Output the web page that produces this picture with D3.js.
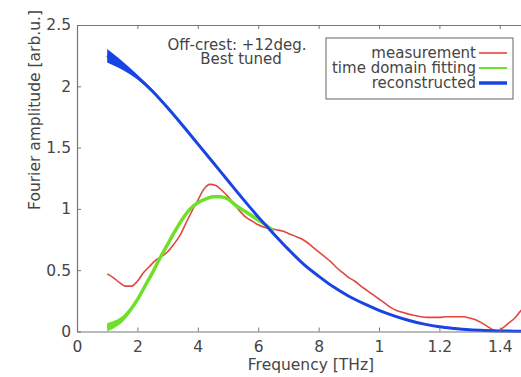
<!DOCTYPE html>
<html>
<head>
<meta charset="utf-8">
<script src="https://cdn.jsdelivr.net/npm/d3@7"></script>
<style>
  html, body { margin: 0; padding: 0; background: #fff; }
  svg { display: block; }
  text { font-family: "DejaVu Sans", sans-serif; fill: #454545; }
</style>
</head>
<body>
<svg id="chart" width="521" height="377"></svg>
<script>
// Frequency axis (THz) and tick labels as printed on the axis
const xTickValues = [0, 0.2, 0.4, 0.6, 0.8, 1.0, 1.2, 1.4];
const xTickLabels = ["0", "2", "4", "6", "8", "1", "1.2", "1.4"];
const yTickValues = [0, 0.5, 1, 1.5, 2, 2.5];
const yTickLabels = ["0", "0.5", "1", "1.5", "2", "2.5"];

// Measured spectrum
const measFreq = [0.10,0.12,0.14,0.16,0.18,0.20,0.22,0.24,0.26,0.28,0.30,0.32,0.34,0.36,0.38,0.40,0.42,0.44,0.46,0.48,0.50,0.52,0.54,0.56,0.58,0.60,0.62,0.64,0.66,0.68,0.70,0.72,0.74,0.76,0.78,0.80,0.82,0.84,0.86,0.88,0.90,0.92,0.94,0.96,0.98,1.00,1.02,1.04,1.06,1.08,1.10,1.12,1.14,1.16,1.18,1.20,1.22,1.24,1.26,1.28,1.30,1.32,1.34,1.36,1.38,1.39,1.41,1.43,1.45,1.47,1.50];
const measAmp  = [0.47,0.44,0.40,0.37,0.37,0.41,0.48,0.53,0.58,0.61,0.65,0.71,0.78,0.88,0.98,1.07,1.16,1.20,1.19,1.15,1.10,1.04,0.98,0.93,0.90,0.87,0.85,0.84,0.83,0.82,0.80,0.78,0.76,0.73,0.69,0.65,0.61,0.57,0.52,0.48,0.44,0.41,0.37,0.335,0.30,0.265,0.23,0.195,0.17,0.155,0.14,0.13,0.12,0.115,0.115,0.115,0.12,0.12,0.12,0.12,0.11,0.095,0.07,0.04,0.01,0.0,0.03,0.07,0.11,0.17,0.24];

// Time domain fit (central value and half-width of the band)
const fitFreq   = [0.10,0.125,0.15,0.175,0.20,0.225,0.25,0.275,0.30,0.325,0.35,0.375,0.40,0.425,0.45,0.475,0.50,0.525,0.55,0.575,0.60,0.625,0.65];
const fitAmp    = [0.035,0.06,0.10,0.17,0.26,0.37,0.48,0.60,0.71,0.82,0.92,1.00,1.05,1.08,1.10,1.10,1.08,1.03,0.99,0.95,0.91,0.87,0.82];
const fitSpread = [0.035,0.03,0.025,0.02,0.016,0.012,0.01,0.008,0.007,0.006,0.006,0.006,0.006,0.006,0.006,0.006,0.006,0.006,0.006,0.006,0.006,0.006,0.006];

// Reconstructed spectrum (central value and half-width of the band)
const recFreq   = [0.10,0.125,0.15,0.175,0.20,0.25,0.30,0.35,0.40,0.45,0.50,0.55,0.60,0.65,0.70,0.75,0.80,0.85,0.90,0.95,1.00,1.05,1.10,1.15,1.20,1.25,1.30,1.35,1.40,1.45,1.50];
const recAmp    = [2.25,2.21,2.17,2.125,2.075,1.96,1.825,1.68,1.53,1.38,1.23,1.08,0.935,0.80,0.67,0.55,0.452,0.362,0.288,0.227,0.173,0.128,0.09,0.06,0.038,0.025,0.015,0.009,0.005,0.003,0.002];
const recSpread = [0.055,0.045,0.035,0.027,0.02,0.013,0.009,0.006,0.005,0.005,0.005,0.005,0.005,0.005,0.005,0.005,0.005,0.005,0.005,0.005,0.005,0.005,0.005,0.005,0.005,0.005,0.005,0.005,0.005,0.005,0.005];

const legendItems = ["measurement", "time domain fitting", "reconstructed"];
const seriesColors = ["#e2473f", "#6fe02a", "#1844e4"];

const svg = d3.select("#chart");
const x = d3.scaleLinear().domain([0, 1.5]).range([77, 77 + 1.5 * 302]);
const y = d3.scaleLinear().domain([0, 2.5]).range([331.5, 25]);

const plot = svg.append("g");

// Band around a curve: central value +/- half-width
function band(freq, amp, spread) {
  return d3.area()
    .x((d, i) => x(freq[i]))
    .y0((d, i) => y(amp[i] - spread[i]))
    .y1((d, i) => y(amp[i] + spread[i]))
    .curve(d3.curveMonotoneX)(amp);
}
function line(freq, amp) {
  return d3.line()
    .x((d, i) => x(freq[i]))
    .y(d => y(d))
    .curve(d3.curveMonotoneX)(amp);
}

// measurement
plot.append("path").attr("d", line(measFreq, measAmp))
  .attr("fill", "none").attr("stroke", seriesColors[0]).attr("stroke-width", 1.6);

// time domain fitting
plot.append("path").attr("d", band(fitFreq, fitAmp, fitSpread))
  .attr("fill", seriesColors[1]).attr("stroke", "none");
plot.append("path").attr("d", line(fitFreq, fitAmp))
  .attr("fill", "none").attr("stroke", seriesColors[1]).attr("stroke-width", 3.5);

// reconstructed
plot.append("path").attr("d", band(recFreq, recAmp, recSpread))
  .attr("fill", seriesColors[2]).attr("stroke", "none");
plot.append("path").attr("d", line(recFreq, recAmp))
  .attr("fill", "none").attr("stroke", seriesColors[2]).attr("stroke-width", 3);

// Axes (ticks point inward)
const axisColor = "#777";
const gx = svg.append("g").attr("transform", `translate(0,${y(0)})`)
  .call(d3.axisBottom(x).tickValues(xTickValues)
    .tickFormat((d, i) => xTickLabels[i]).tickSizeInner(-4).tickSizeOuter(0).tickPadding(9));
const gTop = svg.append("g").attr("transform", `translate(0,${y(2.5)})`)
  .call(d3.axisTop(x).tickValues(xTickValues).tickFormat("").tickSizeInner(-4).tickSizeOuter(0));
const gy = svg.append("g").attr("transform", `translate(${x(0)},0)`)
  .call(d3.axisLeft(y).tickValues(yTickValues)
    .tickFormat((d, i) => yTickLabels[i]).tickSizeInner(-4).tickSizeOuter(0).tickPadding(6));

[gx, gTop, gy].forEach(g => {
  g.select(".domain").attr("stroke", axisColor).attr("stroke-width", 1.2);
  g.selectAll(".tick line").attr("stroke", axisColor);
  g.selectAll(".tick text").style("font-family", "DejaVu Sans").style("font-size", "15.5px").attr("fill", "#454545");
});

// Axis titles
svg.append("text").attr("x", 311).attr("y", 370).attr("text-anchor", "middle")
  .style("font-size", "15.5px").text("Frequency [THz]");
svg.append("text").attr("transform", "translate(40,110) rotate(-90)")
  .attr("text-anchor", "middle").style("font-size", "15.5px").text("Fourier amplitude [arb.u.]");

// Annotation
svg.append("text").attr("x", 237).attr("y", 50).attr("text-anchor", "middle")
  .style("font-size", "15px").text("Off-crest: +12deg.");
svg.append("text").attr("x", 241).attr("y", 64).attr("text-anchor", "middle")
  .style("font-size", "15px").text("Best tuned");

// Legend
const lg = svg.append("g");
lg.append("rect").attr("x", 326).attr("y", 38).attr("width", 187).attr("height", 61)
  .attr("fill", "#fff").attr("stroke", "#666").attr("stroke-width", 1);
const rowY = [53, 68, 83];
const legendWidths = [1.6, 2, 3.5];
legendItems.forEach((name, i) => {
  lg.append("text").attr("x", 476).attr("y", rowY[i]).attr("dy", "0.35em")
    .attr("text-anchor", "end").style("font-size", "15px").text(name);
  lg.append("line").attr("x1", 479).attr("x2", 507).attr("y1", rowY[i]).attr("y2", rowY[i])
    .attr("stroke", seriesColors[i]).attr("stroke-width", legendWidths[i]);
});
</script>
</body>
</html>
